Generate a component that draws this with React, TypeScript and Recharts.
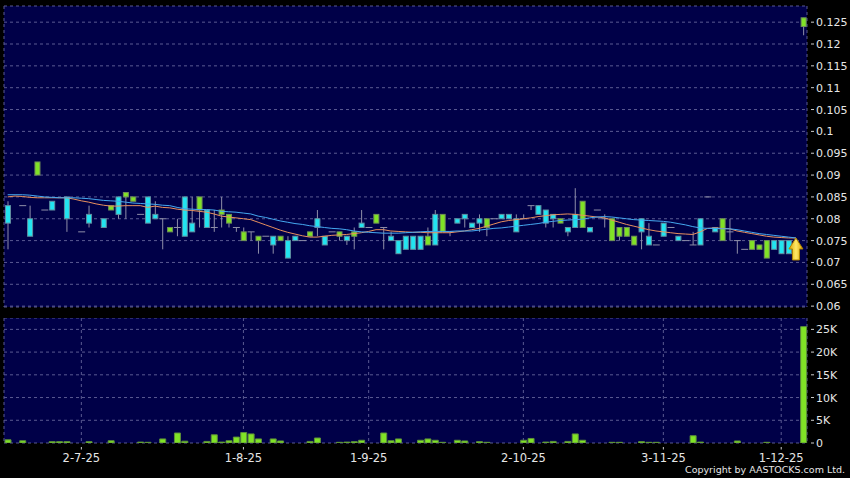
import React from 'react';
import { ComposedChart, Bar, Line, XAxis, YAxis, CartesianGrid, ReferenceDot } from 'recharts';

// one slot per trading day, null = no trade that day
const opens = [
  0.083, null, 0.083, 0.080, 0.090, 0.082, 0.084, null, 0.085, null,
  0.077, 0.081, null, 0.080, 0.082, 0.085, 0.085, 0.084, 0.081, 0.085,
  0.081, 0.080, 0.077, 0.078, 0.085, 0.079, 0.082, 0.082, 0.078, 0.081,
  0.079, 0.078, 0.075, 0.077, 0.075, 0.076, 0.076, 0.075, 0.075, 0.076,
  0.075, 0.076, 0.080, 0.076, 0.077, 0.076, 0.076, 0.076, 0.079, 0.078,
  0.079, 0.078, 0.076, 0.075, 0.076, 0.076, 0.076, 0.074, 0.081, 0.077,
  0.077, 0.080, 0.081, 0.079, 0.080, 0.078, 0.080, 0.081, 0.081, 0.080,
  0.080, 0.083, 0.083, 0.082, 0.081, 0.079, 0.078, 0.081, 0.078, 0.078,
  0.082, 0.080, 0.075, 0.076, 0.076, 0.074, 0.080, 0.076, 0.074, 0.079,
  0.078, 0.076, 0.075, 0.074, 0.080, 0.085, 0.078, 0.075, 0.077, 0.075,
  0.073, 0.073, 0.073, 0.071, 0.075, 0.075, 0.075, null, 0.124,
];
const highs = [
  0.084, null, 0.083, 0.083, 0.093, 0.082, 0.084, null, 0.085, null,
  0.077, 0.083, null, 0.080, 0.083, 0.085, 0.086, 0.085, 0.081, 0.085,
  0.084, 0.080, 0.078, 0.080, 0.085, 0.085, 0.085, 0.082, 0.082, 0.085,
  0.081, 0.078, 0.078, 0.077, 0.076, 0.076, 0.076, 0.076, 0.076, 0.076,
  0.075, 0.077, 0.082, 0.076, 0.077, 0.077, 0.076, 0.078, 0.082, 0.078,
  0.081, 0.078, 0.077, 0.075, 0.076, 0.076, 0.076, 0.078, 0.082, 0.081,
  0.077, 0.080, 0.081, 0.079, 0.081, 0.080, 0.080, 0.081, 0.081, 0.081,
  0.081, 0.083, 0.083, 0.082, 0.081, 0.080, 0.078, 0.087, 0.084, 0.078,
  0.082, 0.081, 0.080, 0.078, 0.078, 0.076, 0.080, 0.079, 0.074, 0.079,
  0.078, 0.076, 0.075, 0.077, 0.080, 0.085, 0.078, 0.080, 0.080, 0.075,
  0.073, 0.075, 0.074, 0.075, 0.075, 0.075, 0.075, null, 0.126,
];
const lows = [
  0.073, null, 0.083, 0.076, 0.090, 0.082, 0.082, null, 0.077, null,
  0.077, 0.078, null, 0.078, 0.082, 0.080, 0.080, 0.084, 0.081, 0.079,
  0.080, 0.073, 0.077, 0.076, 0.076, 0.077, 0.078, 0.078, 0.077, 0.078,
  0.078, 0.077, 0.075, 0.075, 0.072, 0.076, 0.072, 0.075, 0.071, 0.075,
  0.075, 0.076, 0.076, 0.074, 0.077, 0.075, 0.074, 0.073, 0.078, 0.078,
  0.079, 0.073, 0.075, 0.072, 0.073, 0.073, 0.073, 0.074, 0.074, 0.077,
  0.076, 0.079, 0.078, 0.078, 0.077, 0.076, 0.080, 0.080, 0.080, 0.077,
  0.080, 0.082, 0.081, 0.078, 0.078, 0.079, 0.076, 0.078, 0.078, 0.077,
  0.082, 0.078, 0.075, 0.075, 0.076, 0.074, 0.073, 0.074, 0.074, 0.076,
  0.078, 0.075, 0.075, 0.074, 0.074, 0.085, 0.077, 0.075, 0.075, 0.072,
  0.073, 0.073, 0.073, 0.071, 0.073, 0.072, 0.072, null, 0.122,
];
const closes = [
  0.079, null, 0.083, 0.076, 0.093, 0.082, 0.082, null, 0.080, null,
  0.077, 0.079, null, 0.078, 0.083, 0.081, 0.086, 0.085, 0.081, 0.079,
  0.080, 0.080, 0.078, 0.078, 0.076, 0.077, 0.085, 0.078, 0.078, 0.082,
  0.081, 0.078, 0.077, 0.077, 0.076, 0.076, 0.074, 0.076, 0.071, 0.075,
  0.075, 0.077, 0.078, 0.074, 0.077, 0.077, 0.075, 0.077, 0.078, 0.078,
  0.081, 0.078, 0.075, 0.072, 0.073, 0.073, 0.073, 0.076, 0.074, 0.081,
  0.077, 0.079, 0.080, 0.078, 0.079, 0.080, 0.080, 0.080, 0.080, 0.077,
  0.080, 0.083, 0.081, 0.079, 0.080, 0.080, 0.077, 0.078, 0.084, 0.077,
  0.082, 0.080, 0.080, 0.078, 0.078, 0.076, 0.077, 0.074, 0.074, 0.076,
  0.078, 0.075, 0.075, 0.074, 0.074, 0.085, 0.077, 0.080, 0.077, 0.075,
  0.073, 0.075, 0.074, 0.075, 0.073, 0.072, 0.072, null, 0.126,
];
const volumes = [
  700, null, 500, null, null, null, 300, 300, 300, null,
  null, 300, null, null, 500, null, null, null, 200, 150,
  null, 900, null, 2200, 400, null, null, 350, 1800, 200,
  500, 1300, 2300, 2000, 900, null, 900, 450, null, null,
  null, 350, 1100, null, null, 150, 200, 300, 600, null,
  null, 2200, 500, 900, null, null, 600, 900, 600, 150,
  null, 600, 450, null, 300, 150, null, null, null, null,
  600, 1000, null, 200, 350, null, 350, 2000, 600, null,
  null, null, 150, 150, null, null, 300, 150, 150, null,
  null, null, null, 1600, 200, null, null, null, null, 450,
  null, null, null, 150, null, null, null, null, 25600,
];
const ma10 = [
  0.0850, 0.0852, 0.0851, 0.0849, 0.0848, 0.0848, 0.0848, 0.0848, 0.0848, 0.0845,
  0.0841, 0.0838, 0.0834, 0.0831, 0.0829, 0.0829, 0.0830, 0.0830, 0.0830, 0.0826,
  0.0829, 0.0826, 0.0825, 0.0822, 0.0820, 0.0819, 0.0817, 0.0815, 0.0811, 0.0806,
  0.0804, 0.0802, 0.0800, 0.0798, 0.0792, 0.0786, 0.0780, 0.0774, 0.0769, 0.0765,
  0.0761, 0.0758, 0.0758, 0.0760, 0.0762, 0.0763, 0.0764, 0.0766, 0.0768, 0.0771,
  0.0775, 0.0775, 0.0772, 0.0771, 0.0770, 0.0769, 0.0769, 0.0768, 0.0768, 0.0768,
  0.0768, 0.0770, 0.0772, 0.0775, 0.0778, 0.0783, 0.0788, 0.0793, 0.0796, 0.0798,
  0.0800, 0.0802, 0.0805, 0.0807, 0.0809, 0.0810, 0.0811, 0.0810, 0.0808, 0.0806,
  0.0804, 0.0802, 0.0797, 0.0792, 0.0787, 0.0783, 0.0779, 0.0775, 0.0772, 0.0770,
  0.0768, 0.0766, 0.0765, 0.0764, 0.0770, 0.0778, 0.0779, 0.0778, 0.0777, 0.0772,
  0.0769, 0.0766, 0.0763, 0.0760, 0.0758, 0.0757, 0.0756, 0.0756, null,
];
const ma20 = [
  0.0855, 0.0855, 0.0855, 0.0854, 0.0852, 0.0850, 0.0849, 0.0848, 0.0848, 0.0848,
  0.0847, 0.0846, 0.0844, 0.0842, 0.0841, 0.0840, 0.0838, 0.0836, 0.0835, 0.0834,
  0.0833, 0.0831, 0.0830, 0.0826, 0.0823, 0.0822, 0.0821, 0.0821, 0.0820, 0.0817,
  0.0816, 0.0815, 0.0813, 0.0811, 0.0806, 0.0803, 0.0799, 0.0795, 0.0792, 0.0789,
  0.0787, 0.0784, 0.0782, 0.0780, 0.0778, 0.0777, 0.0775, 0.0772, 0.0770, 0.0769,
  0.0768, 0.0767, 0.0767, 0.0767, 0.0768, 0.0769, 0.0770, 0.0771, 0.0771, 0.0771,
  0.0771, 0.0772, 0.0772, 0.0772, 0.0774, 0.0776, 0.0778, 0.0779, 0.0781, 0.0783,
  0.0785, 0.0787, 0.0789, 0.0792, 0.0794, 0.0796, 0.0797, 0.0798, 0.0799, 0.0802,
  0.0804, 0.0805, 0.0804, 0.0802, 0.0800, 0.0798, 0.0797, 0.0796, 0.0795, 0.0794,
  0.0792, 0.0789, 0.0786, 0.0782, 0.0779, 0.0778, 0.0778, 0.0777, 0.0777, 0.0775,
  0.0772, 0.0769, 0.0766, 0.0764, 0.0762, 0.0760, 0.0758, 0.0756, null,
];

const xTicks = [10, 32, 49, 70, 89, 105];
const xLabels = ['2-7-25', '1-8-25', '1-9-25', '2-10-25', '3-11-25', '1-12-25'];
const priceTicks = [0.06, 0.065, 0.07, 0.075, 0.08, 0.085, 0.09, 0.095, 0.1, 0.105, 0.11, 0.115, 0.12, 0.125];
const volTicks = [0, 5000, 10000, 15000, 20000, 25000];
const arrowAt = { i: 107, price: 0.0756 };

const data = opens.map((o, i) => ({
  i,
  open: o,
  high: highs[i],
  low: lows[i],
  close: closes[i],
  vol: volumes[i],
  ma10: ma10[i],
  ma20: ma20[i],
}));

const FONT = 'DejaVu Sans, Verdana, sans-serif';
const TXT = '#e6e6e6';
const GRID = '#5a5a92';
const PLOT_BG = '#000048';

const Candle = (props: any) => {
  const { x, y, width, height, payload } = props;
  if (!payload || payload.open == null) return null;
  const { open, close, high, low } = payload;
  const top = Math.min(y, y + height);
  const h = Math.abs(height);
  const toY = (p: number) => (high === low || h === 0 ? top : top + ((high - p) / (high - low)) * h);
  const cx = x + width / 2;
  const wick = '#8e8ea8';
  if (open === close) {
    return (
      <g>
        {high !== low && <line x1={cx} x2={cx} y1={toY(high)} y2={toY(low)} stroke={wick} />}
        <line x1={cx - 3.5} x2={cx + 3.5} y1={toY(open)} y2={toY(open)} stroke={wick} />
      </g>
    );
  }
  const up = close > open;
  const bTop = toY(Math.max(open, close));
  const bBot = toY(Math.min(open, close));
  return (
    <g>
      <line x1={cx} x2={cx} y1={toY(high)} y2={toY(low)} stroke={wick} />
      <rect
        x={cx - 2.5}
        y={bTop}
        width={5}
        height={Math.max(bBot - bTop, 1)}
        fill={up ? '#80e226' : '#22e4f0'}
        stroke={up ? '#6f8f58' : '#5f8ea0'}
        strokeWidth={1}
      />
    </g>
  );
};

const Arrow = (props: any) => {
  const { cx, cy } = props;
  const pts = [
    [cx, cy],
    [cx + 7, cy + 11],
    [cx + 3.5, cy + 11],
    [cx + 3.5, cy + 22],
    [cx - 3.5, cy + 22],
    [cx - 3.5, cy + 11],
    [cx - 7, cy + 11],
  ].map((p) => p.join(',')).join(' ');
  return (
    <g>
      <defs>
        <linearGradient id="arrowFill" x1="0" y1="0" x2="1" y2="0">
          <stop offset="0%" stopColor="#d9a400" />
          <stop offset="50%" stopColor="#ffe866" />
          <stop offset="100%" stopColor="#d9a400" />
        </linearGradient>
      </defs>
      <polygon points={pts} fill="url(#arrowFill)" stroke="#b08400" strokeWidth={1} />
    </g>
  );
};

const fmtPrice = (v: number) => String(Number(v.toFixed(3)));
const fmtVol = (v: number) => (v === 0 ? '0' : `${v / 1000}K`);

const RightTick = (props: any) => {
  const { x, y, payload, fmt } = props;
  return (
    <g>
      <line x1={x + 4} x2={x + 7} y1={y} y2={y} stroke="#cfcfcf" />
      <text x={x + 9} y={y} dy={4} fill={TXT} fontSize={11} fontFamily={FONT}>
        {fmt(payload.value)}
      </text>
    </g>
  );
};

const BottomTick = (props: any) => {
  const { x, y, payload } = props;
  const k = xTicks.indexOf(payload.value);
  return (
    <g>
      <line x1={x} x2={x} y1={y + 4} y2={y + 6.5} stroke="#cfcfcf" />
      <text x={x} y={y + 19} textAnchor="middle" fill={TXT} fontSize={11.5} fontFamily={FONT}>
        {k >= 0 ? xLabels[k] : ''}
      </text>
    </g>
  );
};

export default function App() {
  return (
    <div style={{ position: 'absolute', left: 0, top: 0, width: 850, height: 478, background: '#000', overflow: 'hidden' }}>
      <div style={{ position: 'absolute', left: 0, top: 0 }}>
        <ComposedChart width={850} height={314} data={data} margin={{ top: 6, right: 0, bottom: 7, left: 4 }}>
          <CartesianGrid fill={PLOT_BG} fillOpacity={1} stroke={GRID} strokeDasharray="3 3" />
          <XAxis dataKey="i" type="category" ticks={xTicks} interval={0} height={0} tick={false} tickLine={false} axisLine={false} />
          <YAxis
            orientation="right"
            width={43}
            type="number"
            domain={[0.0598, 0.1287]}
            ticks={priceTicks}
            interval={0}
            allowDataOverflow
            axisLine={false}
            tickLine={false}
            tickSize={0}
            tickMargin={0}
            tick={(p: any) => <RightTick {...p} fmt={fmtPrice} />}
          />
          <Bar
            dataKey={(d: any) => (d.open == null ? null : [d.low, d.high])}
            barSize={6}
            shape={Candle}
            isAnimationActive={false}
          />
          <Line dataKey="ma10" stroke="#e8905e" strokeWidth={1} dot={false} activeDot={false} isAnimationActive={false} />
          <Line dataKey="ma20" stroke="#45a8f0" strokeWidth={1} dot={false} activeDot={false} isAnimationActive={false} />
          <ReferenceDot x={arrowAt.i} y={arrowAt.price} r={0} shape={Arrow} ifOverflow="visible" />
        </ComposedChart>
      </div>
      <div style={{ position: 'absolute', left: 0, top: 318 }}>
        <ComposedChart width={850} height={150} data={data} margin={{ top: 0, right: 0, bottom: 0, left: 4 }}>
          <CartesianGrid fill={PLOT_BG} fillOpacity={1} stroke={GRID} strokeDasharray="3 3" />
          <XAxis
            dataKey="i"
            type="category"
            ticks={xTicks}
            interval={0}
            height={25}
            axisLine={false}
            tickLine={false}
            tickSize={0}
            tickMargin={0}
            tick={(p: any) => <BottomTick {...p} />}
          />
          <YAxis
            orientation="right"
            width={43}
            type="number"
            domain={[0, 27500]}
            ticks={volTicks}
            interval={0}
            allowDataOverflow
            axisLine={false}
            tickLine={false}
            tickSize={0}
            tickMargin={0}
            tick={(p: any) => <RightTick {...p} fmt={fmtVol} />}
          />
          <Bar dataKey="vol" barSize={6} fill="#80e226" stroke="#5c8f3a" strokeWidth={1} isAnimationActive={false} />
        </ComposedChart>
      </div>
      <div
        style={{
          position: 'absolute',
          right: 5,
          top: 464,
          fontFamily: FONT,
          fontSize: 9.5,
          lineHeight: '12px',
          color: TXT,
          whiteSpace: 'nowrap',
        }}
      >
        Copyright by AASTOCKS.com Ltd.
      </div>
    </div>
  );
}
